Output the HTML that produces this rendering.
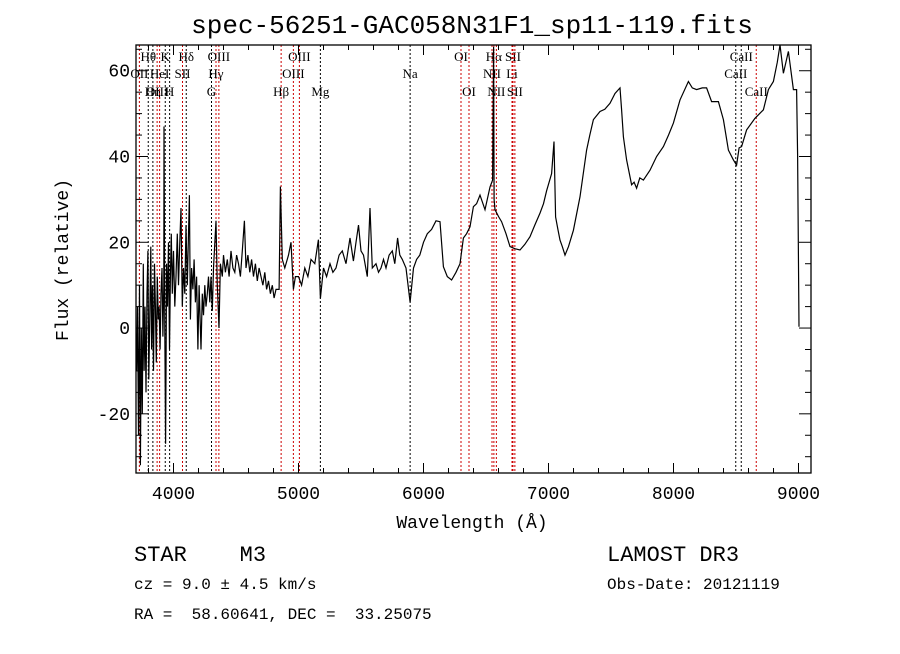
<!DOCTYPE html>
<html><head><meta charset="utf-8">
<style>
body{margin:0;background:#fff;}
svg text{font-family:"Liberation Mono",monospace;fill:#000;white-space:pre;}
.lab{font-family:"Liberation Serif",serif;font-size:13px;}
</style></head>
<body>
<svg id="chart" width="900" height="649" viewBox="0 0 900 649" xmlns="http://www.w3.org/2000/svg" xml:space="preserve">
<rect width="900" height="649" fill="#fff"/>
<text x="472" y="33" font-size="26" text-anchor="middle">spec-56251-GAC058N31F1_sp11-119.fits</text>
<g id="lines"></g>
<g id="axes"></g>
<path id="spec" fill="none" stroke="#000" stroke-width="1.2"/>
<text x="472" y="528" font-size="18" text-anchor="middle">Wavelength (Å)</text>
<text x="0" y="0" font-size="18" text-anchor="middle" transform="translate(68,260) rotate(-90)">Flux (relative)</text>
<text x="134" y="561" font-size="22">STAR    M3</text>
<text x="607" y="561" font-size="22">LAMOST DR3</text>
<text x="134" y="589" font-size="16">cz = 9.0 ± 4.5 km/s</text>
<text x="607" y="589" font-size="16">Obs-Date: 20121119</text>
<text x="134" y="619" font-size="16">RA =  58.60641, DEC =  33.25075</text>
</svg>
<script>
const wave=[3705,3712,3720,3728,3735,3742,3750,3758,3765,3772,3780,3788,3795,3802,3810,3818,3825,3832,3840,3848,3855,3862,3870,3878,3885,3893,3900,3908,3915,3922,3924,3930,3937,3945,3952,3960,3968,3975,3982,3990,4000,4010,4020,4030,4040,4050,4060,4070,4080,4090,4100,4110,4127,4135,4145,4155,4165,4175,4185,4195,4205,4220,4230,4240,4250,4260,4270,4280,4290,4300,4310,4320,4340,4350,4364,4375,4390,4400,4415,4430,4445,4460,4475,4490,4505,4520,4535,4550,4567,4580,4595,4610,4625,4640,4655,4670,4685,4700,4715,4730,4745,4760,4775,4790,4805,4820,4845,4855,4870,4890,4920,4940,4959,4975,5000,5025,5050,5075,5100,5130,5159,5175,5200,5225,5252,5275,5300,5325,5350,5380,5412,5439,5460,5480,5500,5520,5550,5572,5590,5620,5640,5660,5680,5700,5725,5750,5770,5793,5810,5830,5860,5893,5920,5945,5970,6000,6030,6065,6100,6132,6159,6190,6225,6260,6292,6319,6345,6372,6399,6425,6452,6492,6532,6553,6561,6565,6572,6600,6625,6660,6692,6730,6772,6810,6852,6890,6932,6960,6985,7025,7044,7057,7075,7092,7110,7132,7160,7199,7252,7305,7330,7359,7412,7450,7492,7532,7572,7585,7599,7625,7665,7685,7705,7730,7759,7812,7865,7919,7960,7999,8052,8119,8150,8185,8230,8265,8305,8359,8399,8439,8479,8505,8525,8545,8585,8652,8719,8759,8799,8830,8852,8879,8919,8959,8985,8993,9004];
const flux=[-10,5,-25,10,-32,0,-20,15,-10,5,-15,8,18,-12,3,19,-5,10,-10,15,5,-8,12,2,5,-5,8,14,-2,10,47,0,-27,15,5,20,-5,12,22,8,18,5,12,22,10,20,28,5,14,8,24,10,31,2,14,9,16,6,12,-5,10,-5,8,3,10,5,8,12,6,12,4,14,25,10,0,15,12,17,13,16,12,18,14,13,17,15,12,18,25,14,17,13,16,12,15,11,14,12,10,13,9,11,8,10,7,9,9,33,16,14,17,20,9,12,12,10,14,12,16,15,20.6,6.9,14,12,15,13,14,17,18,15,21,15.6,20,24,18,17,12,28,14,15,13,14,16,14,17,18,15,21,17,16,14,6,14,16,17,20,22,23,25,24.8,14.3,12,11.2,13,15,21,22,23.6,28.3,29,31,27.6,32.9,34.5,65.6,30,27.6,26,24.8,22,19,18.5,18.2,19.5,21.3,24,26.8,29,32,36,43.5,25.9,23,20.5,19,17,19,22.8,30.6,41.5,45,48.6,50.5,51,52.4,54.7,56,50.9,44.6,39.2,33.4,34,32.6,35,34.5,36.8,40,42.3,45,47.8,53.2,57.5,56,55.6,56,56,52.8,52.8,48.6,41.5,39.2,38,42,42.3,46.2,48.9,50.9,55.6,57.5,62,66,59.4,64.5,55.6,55.6,40.4,0.3];
const lineWaves=[3727,3798,3835,3869,3889,3934,3969,4072,4102,4304,4340,4363,4861,4959,5007,5175,5893,6300,6364,6548,6563,6583,6708,6716,6731,8498,8542,8662];
const lineColors=['r','k','k','r','r','k','k','r','k','k','r','r','r','r','r','k','k','r','r','r','r','r','r','r','r','k','k','r'];
const labelText=['OII','Hθ','Hη','OIII','HeI','K','H','SII','Hδ','G','Hγ','OIII','Hβ','OIII','OIII','Mg','Na','OI','OI','NII','Hα','NII','Li','SII','SII','CaII','CaII','CaII'];
const labelRow=[2,1,3,3,2,1,3,2,1,3,2,1,3,2,1,3,2,1,3,2,1,3,2,1,3,2,1,3];
const xTicks=[4000,5000,6000,7000,8000,9000];
const yTicks=[-20,0,20,40,60];
const X0=136,X1=811,Y0=45,Y1=473,WMIN=3700,WMAX=9100,FMIN=-33.8,FMAX=66;
const sx=w=>X0+(w-WMIN)/(WMAX-WMIN)*(X1-X0);
const sy=f=>Y1-(f-FMIN)/(FMAX-FMIN)*(Y1-Y0);
const NS='http://www.w3.org/2000/svg';
function mk(tag,attrs,parent){const e=document.createElementNS(NS,tag);for(const k in attrs)e.setAttribute(k,attrs[k]);parent.appendChild(e);return e;}
const gl=document.getElementById('lines');
lineWaves.forEach((w,i)=>{
 const l=mk('line',{x1:sx(w),x2:sx(w),y1:Y0,y2:Y1,stroke:lineColors[i]=='r'?'#c00':'#000','stroke-width':1,'stroke-dasharray':'2,2'},gl);
 
 
 const t=mk('text',{x:sx(w),y:[0,61,78,96][labelRow[i]],'text-anchor':'middle',class:'lab'},gl);
 t.textContent=labelText[i];
 
 
});
const ga=document.getElementById('axes');
const box=mk('rect',{x:X0,y:Y0,width:X1-X0,height:Y1-Y0,fill:'none',stroke:'#000','stroke-width':1.3},ga);


for(let w=3800;w<=9100;w+=200){const maj=w%1000==0,len=maj?10:5;
 mk('line',{x1:sx(w),x2:sx(w),y1:Y1,y2:Y1-len,stroke:'#000'},ga);
 mk('line',{x1:sx(w),x2:sx(w),y1:Y0,y2:Y0+len,stroke:'#000'},ga);}
xTicks.forEach(w=>{const t=mk('text',{x:sx(w),y:Y1+26,'text-anchor':'middle','font-size':18},ga);t.textContent=w;
 
 });
for(let f=-30;f<=65;f+=5){const maj=f%20==0,len=maj?12:6;
 mk('line',{x1:X0,x2:X0+len,y1:sy(f),y2:sy(f),stroke:'#000'},ga);
 mk('line',{x1:X1,x2:X1-len,y1:sy(f),y2:sy(f),stroke:'#000'},ga);}
yTicks.forEach(f=>{const t=mk('text',{x:X0-6,y:sy(f)+6,'text-anchor':'end','font-size':18},ga);t.textContent=f;
 
 });
document.getElementById('spec').setAttribute('d',wave.map((w,i)=>(i?'L':'M')+sx(w).toFixed(1)+','+sy(flux[i]).toFixed(1)).join(''));
</script>
</body></html>
